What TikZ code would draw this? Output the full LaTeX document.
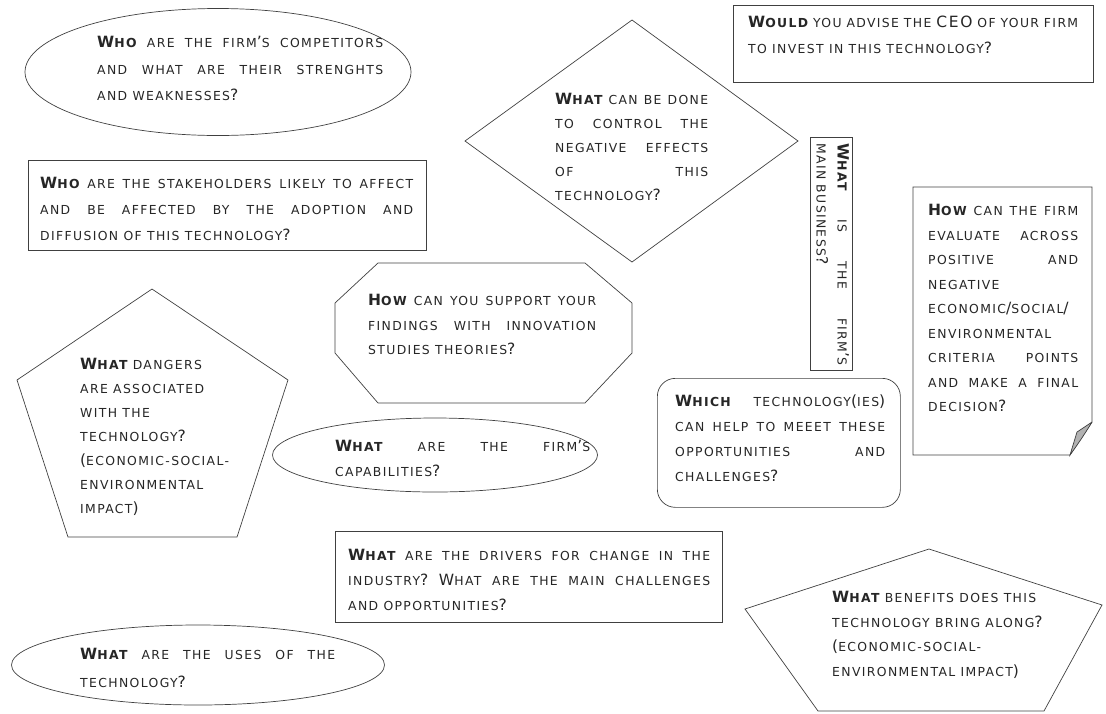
\documentclass[tikz,border=0pt]{standalone}
\usepackage{fontspec}
\setmainfont{DejaVu Sans}
\newfontfamily\qf[LetterSpace=11]{DejaVu Sans}
\usetikzlibrary{shapes.geometric}
\newcommand\bq[2]{{\bfseries\fontsize{15.5}{25}\selectfont #1\fontsize{12.4}{25}\selectfont #2}}
\newcommand\bigc[1]{{\fontsize{15.5}{25}\selectfont #1}}
\newcommand\nobrk{\tolerance=10000 \hyphenpenalty=10000 \exhyphenpenalty=10000\relax}
\tikzset{
  shp/.style={draw=black!75, line width=0.7pt},
  box/.style={shp, anchor=north west, inner sep=0pt},
  txt/.style={inner sep=0pt, anchor=north west, align=justify, text=black!85,
    font=\qf\fontsize{12.4}{#1}\selectfont\nobrk},
  txt/.default=25,
  rtxt/.style={inner sep=0pt, anchor=north west, align=left, text=black!85,
    font=\qf\fontsize{12.4}{#1}\selectfont\nobrk},
  rtxt/.default=24,
}
\begin{document}
\begin{tikzpicture}[x=1pt,y=-1pt]
\useasboundingbox (0,0) rectangle (1106,713);
% shapes
\node[shp, ellipse, minimum width=386pt, minimum height=127pt] (e1) at (218,72) {};
\node[box, minimum width=360pt, minimum height=77pt] (r1) at (733,5) {};
\draw[shp] (465,141) coordinate (dl) -- (632,20) coordinate (dt) -- (798,141) coordinate (dr) -- (632,262) coordinate (db) -- cycle;
\node[box, minimum width=42pt, minimum height=233pt] (rv) at (810,137) {};
\draw[shp] (913,187) coordinate (n1) -- (1092,187) coordinate (n2) -- (1092,422) coordinate (n3) -- (1070,455) coordinate (n4) -- (913,455) coordinate (n5) -- cycle;
\filldraw[draw=black!75, line width=0.7pt, fill=black!30] (n3) -- (1077,432) coordinate (nf) -- (n4) .. controls (1078,444) and (1086,432) .. (n3);
\node[box, minimum width=398pt, minimum height=90pt] (r2) at (28,160) {};
\draw[shp] (378,263) coordinate (o1) -- (585,263) -- (632,303) -- (632,353) -- (585,403) -- (378,403) -- (335,353) -- (335,303) -- cycle;
\draw[shp] (152,289) coordinate (p1) -- (288,380) -- (237,537) -- (68,537) -- (17,380) -- cycle;
\node[shp, ellipse, minimum width=325pt, minimum height=74pt] (e2) at (435,455) {};
\node[box, rounded corners=18pt, minimum width=243pt, minimum height=129pt] (rr) at (657,378) {};
\node[box, minimum width=387pt, minimum height=91pt] (r3) at (335,531) {};
\draw[shp] (929,549) coordinate (q1) -- (1102,605) -- (1044,711) -- (818,711) -- (745,609) -- cycle;
\node[shp, ellipse, minimum width=373pt, minimum height=80pt] (e3) at (198,665) {};
% texts
\node[txt=26.5, text width=286pt] (t1) at (97,36) {\bq{W}{HO} ARE THE FIRM\bigc{’}S COMPETITORS\linebreak AND WHAT ARE THEIR STRENGHTS\linebreak AND WEAKNESSES\bigc{?}};
\node[txt=26, text width=330pt] (t2) at (748,16) {\bq{W}{OULD} YOU ADVISE THE \bigc{CEO} OF YOUR FIRM\linebreak TO INVEST IN THIS TECHNOLOGY\bigc{?}};
\node[txt=24, text width=153pt] (t3) at (555,93) {\bq{W}{HAT} CAN BE DONE\linebreak TO CONTROL THE\linebreak NEGATIVE EFFECTS\linebreak OF THIS\linebreak TECHNOLOGY\bigc{?}};
\node[txt=21, text width=222pt, rotate=-90] (t4) at (849,143) {\bq{W}{HAT} IS THE FIRM\bigc{’}S\linebreak MAIN BUSINESS\bigc{?}};
\node[txt=24.5, text width=150pt] (t5) at (928,204) {\bq{H}{OW} CAN THE FIRM\linebreak EVALUATE ACROSS\linebreak POSITIVE AND\linebreak NEGATIVE\linebreak ECONOMIC\bigc{/}SOCIAL\bigc{/}\linebreak ENVIRONMENTAL\linebreak CRITERIA POINTS\linebreak AND MAKE A FINAL\linebreak DECISION\bigc{?}};
\node[txt=26, text width=373pt] (t6) at (40,177) {\bq{W}{HO} ARE THE STAKEHOLDERS LIKELY TO AFFECT\linebreak AND BE AFFECTED BY THE ADOPTION AND\linebreak DIFFUSION OF THIS TECHNOLOGY\bigc{?}};
\node[txt=24.5, text width=228pt] (t7) at (368,294) {\bq{H}{OW} CAN YOU SUPPORT YOUR\linebreak FINDINGS WITH INNOVATION\linebreak STUDIES THEORIES\bigc{?}};
\node[rtxt=24] (t8) at (80,358) {\bq{W}{HAT} DANGERS\\ ARE ASSOCIATED\\ WITH THE\\ TECHNOLOGY\bigc{?}\\ \bigc{(}ECONOMIC-SOCIAL-\\ ENVIRONMENTAL\\ IMPACT\bigc{)}};
\node[txt=25, text width=255pt] (t9) at (335,440) {\bq{W}{HAT} ARE THE FIRM\bigc{’}S\linebreak CAPABILITIES\bigc{?}};
\node[txt=25, text width=210pt] (t10) at (675,395) {\bq{W}{HICH} TECHNOLOGY\bigc{(}IES\bigc{)}\linebreak CAN HELP TO MEEET THESE\linebreak OPPORTUNITIES AND\linebreak CHALLENGES\bigc{?}};
\node[txt=25, text width=362pt] (t11) at (348,549) {\bq{W}{HAT} ARE THE DRIVERS FOR CHANGE IN THE\linebreak INDUSTRY\bigc{?} \bigc{W}HAT ARE THE MAIN CHALLENGES\linebreak AND OPPORTUNITIES\bigc{?}};
\node[rtxt=24.5] (t12) at (832,591) {\bq{W}{HAT} BENEFITS DOES THIS\\ TECHNOLOGY BRING ALONG\bigc{?}\\ \bigc{(}ECONOMIC-SOCIAL-\\ ENVIRONMENTAL IMPACT\bigc{)}};
\node[txt=28, text width=255pt] (t13) at (80,648) {\bq{W}{HAT} ARE THE USES OF THE\linebreak TECHNOLOGY\bigc{?}};
\end{tikzpicture}
\end{document}
